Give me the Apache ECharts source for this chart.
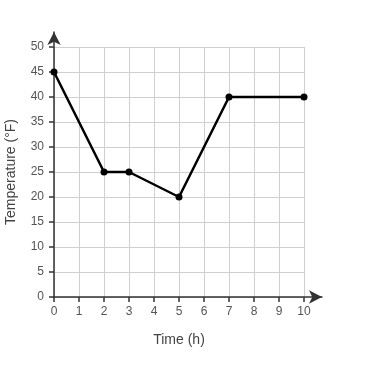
<!DOCTYPE html>
<html><head><meta charset="utf-8">
<script src="https://cdn.jsdelivr.net/npm/echarts@6/dist/echarts.min.js"></script>
<style>html,body{margin:0;padding:0;background:#fff}#c{width:385px;height:367px}</style>
</head><body><div id="c"></div>
<script>
const timeHours = [0, 2, 3, 5, 7, 10];
const temperatureF = [45, 25, 25, 20, 40, 40];
const xTitle = 'Time (h)';
const yTitle = 'Temperature (°F)';

const chart = echarts.init(document.getElementById('c'), null, {renderer: 'canvas'});
const font = 'Arial, "Liberation Sans", sans-serif';
const labelColor = '#555';
chart.setOption({
  animation: false,
  backgroundColor: '#fff',
  grid: [
    {left: 54, right: 81, top: 47, bottom: 70, containLabel: false, outerBoundsMode: 'none'},
    {left: 54, right: 63, top: 32, bottom: 70, containLabel: false, outerBoundsMode: 'none'}
  ],
  xAxis: [{
    type: 'value', min: 0, max: 10, interval: 1, gridIndex: 0,
    name: xTitle, nameLocation: 'middle', nameGap: 36,
    nameTextStyle: {color: '#444', fontSize: 14, fontFamily: font},
    axisLine: {show: false},
    axisTick: {show: true, length: 5, lineStyle: {color: '#333', width: 1.5}},
    axisLabel: {color: labelColor, fontSize: 12, fontFamily: font, margin: 9},
    splitLine: {show: true, lineStyle: {color: '#cfcfcf', width: 1}}
  }, {
    type: 'value', min: 0, max: 1, gridIndex: 1,
    axisLine: {show: true, onZero: false, lineStyle: {color: '#333', width: 1.5}, symbol: ['none', 'arrow'], symbolSize: [10, 13]},
    axisTick: {show: false}, axisLabel: {show: false}, splitLine: {show: false}
  }],
  yAxis: [{
    type: 'value', min: 0, max: 50, interval: 5, gridIndex: 0,
    name: yTitle, nameLocation: 'middle', nameGap: 36, nameRotate: 90,
    nameTextStyle: {color: '#444', fontSize: 14, fontFamily: font},
    axisLine: {show: false},
    axisTick: {show: true, length: 5, lineStyle: {color: '#333', width: 1.5}},
    axisLabel: {color: labelColor, fontSize: 12, fontFamily: font, margin: 10},
    splitLine: {show: true, lineStyle: {color: '#cfcfcf', width: 1}}
  }, {
    type: 'value', min: 0, max: 1, gridIndex: 1,
    axisLine: {show: true, onZero: false, lineStyle: {color: '#333', width: 1.5}, symbol: ['none', 'arrow'], symbolSize: [10, 13]},
    axisTick: {show: false}, axisLabel: {show: false}, splitLine: {show: false}
  }],
  series: [{
    type: 'line', xAxisIndex: 0, yAxisIndex: 0,
    data: timeHours.map((t, i) => [t, temperatureF[i]]),
    symbol: 'circle', symbolSize: 7,
    lineStyle: {color: '#000', width: 2.5},
    itemStyle: {color: '#000'},
    z: 5
  }]
});
</script></body></html>
